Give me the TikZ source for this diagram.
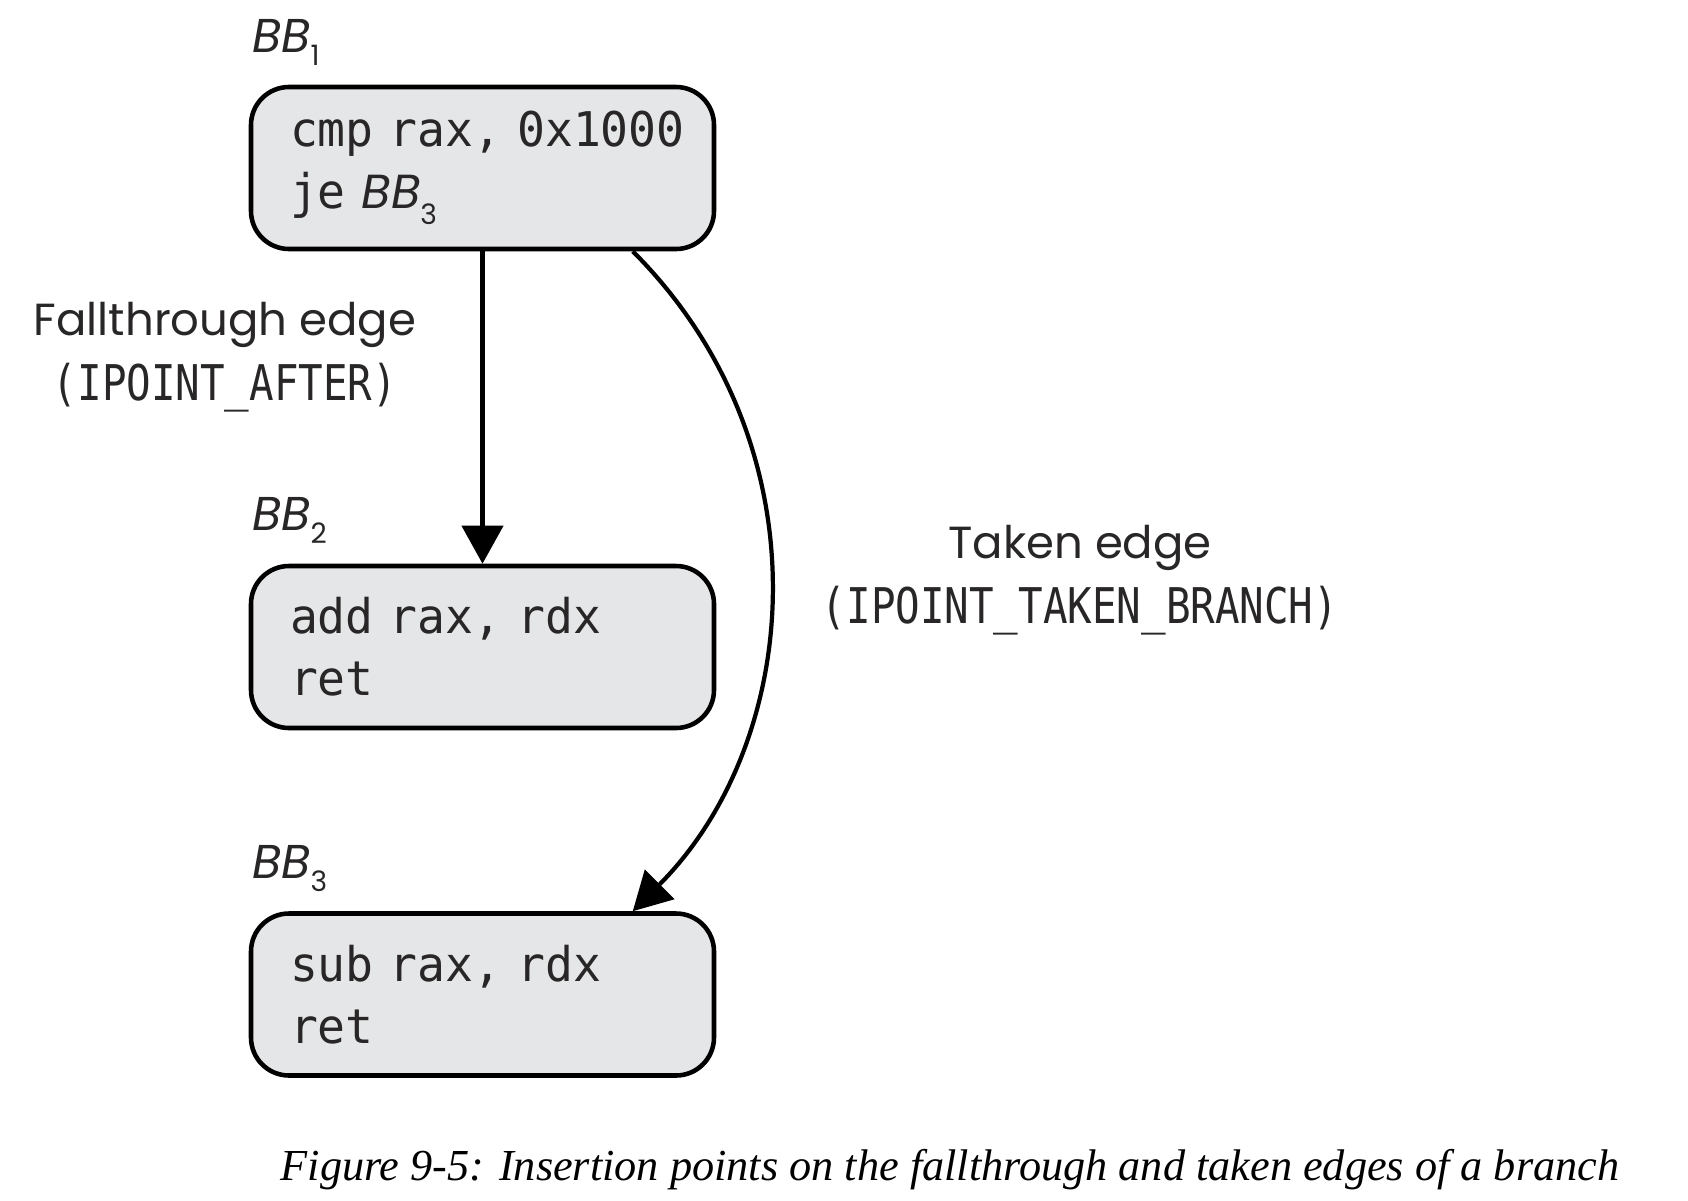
\documentclass[tikz,border=0pt]{standalone}
\usepackage{fontspec}
\usepackage{xcolor}
\setmainfont{Liberation Serif}
\newfontfamily\lblfont{Poppins}
\newfontfamily\codefont[FakeStretch=0.97]{DejaVu Sans Mono}
\newfontfamily\ipfont[FakeStretch=0.83]{DejaVu Sans Mono}
\usetikzlibrary{arrows.meta, calc}

\definecolor{blockgray}{RGB}{229,230,231}
\definecolor{inkgray}{RGB}{40,38,38}
\newcommand{\bbname}[1]{{\lblfont\itshape BB}\raisebox{-0.6ex}{\lblfont\fontsize{8}{8}\selectfont #1}}

\tikzset{
    block/.style={draw=black, line width=1.3pt, fill=blockgray, rounded corners=0.38cm,
        minimum width=4.63cm, minimum height=1.62cm, inner xsep=0.39cm,
        text width=3.85cm, align=left, text=inkgray,
        font=\codefont\fontsize{13.6}{17.6}\selectfont},
    bblabel/.style={anchor=base west, inner sep=0pt, text=inkgray,
        font=\fontsize{13.5}{13.5}\selectfont},
    edgelabel/.style={align=center, text=inkgray, inner sep=0pt,
        font=\lblfont\fontsize{12.8}{18.5}\selectfont},
    edge/.style={->, line width=1.2pt}
}

\begin{document}
\begin{tikzpicture}[>={Triangle[width=4.1mm,length=3.8mm]}]
        \useasboundingbox (0,0) rectangle (16.88,-12);
        % basic blocks
        \node[block] (bb1) at (4.825,-1.68) {\mbox{cmp rax, 0x1000}\\je \bbname{3}};
        \node[block] (bb2) at (4.825,-6.47) {add rax, rdx\\ret};
        \node[block] (bb3) at (4.825,-9.945) {sub rax, rdx\\ret};
        \node[bblabel] (l1) at ([xshift=0.03cm,yshift=0.32cm]bb1.north west) {\bbname{1}};
        \node[bblabel] (l2) at ([xshift=0.03cm,yshift=0.33cm]bb2.north west) {\bbname{2}};
        \node[bblabel] (l3) at ([xshift=0.03cm,yshift=0.33cm]bb3.north west) {\bbname{3}};
        % edges
        \draw[edge] (bb1.south) -- (bb2.north);
        \draw[edge] (bb1.-29.6) .. controls +(1.95,-1.95) and +(1.7,1.7) .. (bb3.29.6);
        \node[edgelabel] (fall) at (2.25,-3.57)
            {Fallthrough edge\\{\ipfont\fontsize{14}{18.5}\selectfont (IPOINT\_AFTER)}};
        \node[edgelabel] (taken) at (10.8,-5.8)
            {Taken edge\\{\ipfont\fontsize{14}{18.5}\selectfont (IPOINT\_TAKEN\_BRANCH)}};
        % caption
        \node[anchor=base west, inner sep=0pt, font=\itshape\fontsize{12.6}{14}\selectfont] (cap)
            at (2.8,-11.8) {Figure 9-5: Insertion points on the fallthrough and taken edges of a branch};
  \end{tikzpicture}
\end{document}
